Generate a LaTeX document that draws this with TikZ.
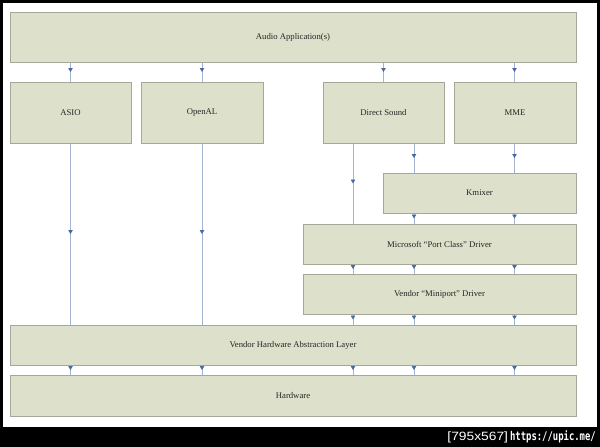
\documentclass[tikz,border=0pt]{standalone}
\usepackage{fontspec}
\usepackage{graphicx}
\setmainfont{Liberation Serif}
\newfontfamily\wmfont{DejaVu Sans Mono}
\newfontfamily\wmsans{Liberation Sans}
\usetikzlibrary{arrows.meta,decorations.markings}
\definecolor{boxfill}{HTML}{DDE0CB}
\definecolor{boxborder}{HTML}{A6A799}
\definecolor{linecol}{HTML}{A3B3D0}
\definecolor{arrowcol}{HTML}{4A6A9E}
\definecolor{textcol}{HTML}{262626}
\tikzset{
  box/.style={draw=boxborder, fill=boxfill, line width=1pt, inner sep=0pt,
    text=textcol, font=\fontsize{8.7}{10}\selectfont},
  conn/.style={draw=linecol, line width=0.9pt, postaction={decorate},
    decoration={markings, mark=at position 0.5 with {\arrow[color=arrowcol]{Triangle[width=4.5pt,length=4pt]}}}},
}
\begin{document}
\begin{tikzpicture}[x=1pt,y=-1pt]
\fill[black] (0,0) rectangle (600,447);
\fill[white] (3,3) rectangle (597,427);
\useasboundingbox (0,0) rectangle (600,447);
% boxes
\node[box, minimum width=566pt, minimum height=50pt] (app) at (293,37) {Audio Application(s)};
\node[box, minimum width=121pt, minimum height=61pt] (asio) at (70.5,112.5) {ASIO};
\node[box, minimum width=122pt, minimum height=61pt] (openal) at (202,112.5) {OpenAL};
\node[box, minimum width=121pt, minimum height=61pt] (ds) at (383.5,112.5) {Direct Sound};
\node[box, minimum width=122pt, minimum height=61pt] (mme) at (515,112.5) {MME};
\node[box, minimum width=193pt, minimum height=40pt] (kmix) at (479.5,193) {Kmixer};
\node[box, minimum width=273pt, minimum height=40pt] (pc) at (439.5,244) {Microsoft ``Port Class'' Driver};
\node[box, minimum width=273pt, minimum height=40pt] (mp) at (439.5,294) {Vendor ``Miniport'' Driver};
\node[box, minimum width=566pt, minimum height=40pt] (hal) at (293,345) {Vendor Hardware Abstraction Layer};
\node[box, minimum width=566pt, minimum height=41pt] (hw) at (293,395.5) {Hardware};
% x positions
\coordinate (xa) at (70.5,0);
\coordinate (xo) at (202,0);
\coordinate (xd) at (383.5,0);
\coordinate (xm) at (514.5,0);
\coordinate (xp) at (353,0);
\coordinate (xk) at (414,0);
% connectors
\draw[conn] (app.south -| xa) -- (asio.north -| xa);
\draw[conn] (app.south -| xo) -- (openal.north -| xo);
\draw[conn] (app.south -| xd) -- (ds.north -| xd);
\draw[conn] (app.south -| xm) -- (mme.north -| xm);
\draw[conn] (asio.south -| xa) -- (hal.north -| xa);
\draw[conn] (openal.south -| xo) -- (hal.north -| xo);
\draw[conn] (ds.south -| xp) -- (pc.north -| xp);
\draw[conn] (ds.south -| xk) -- (kmix.north -| xk);
\draw[conn] (mme.south -| xm) -- (kmix.north -| xm);
\draw[conn] (kmix.south -| xk) -- (pc.north -| xk);
\draw[conn] (kmix.south -| xm) -- (pc.north -| xm);
\draw[conn] (pc.south -| xp) -- (mp.north -| xp);
\draw[conn] (pc.south -| xk) -- (mp.north -| xk);
\draw[conn] (pc.south -| xm) -- (mp.north -| xm);
\draw[conn] (mp.south -| xp) -- (hal.north -| xp);
\draw[conn] (mp.south -| xk) -- (hal.north -| xk);
\draw[conn] (mp.south -| xm) -- (hal.north -| xm);
\draw[conn] (hal.south -| xa) -- (hw.north -| xa);
\draw[conn] (hal.south -| xo) -- (hw.north -| xo);
\draw[conn] (hal.south -| xp) -- (hw.north -| xp);
\draw[conn] (hal.south -| xk) -- (hw.north -| xk);
\draw[conn] (hal.south -| xm) -- (hw.north -| xm);
% watermark
\node[anchor=base east, text=white, inner sep=0pt] (wm) at (596,440)
  {\scalebox{1.15}[1]{\wmsans\fontsize{12}{13}\selectfont [795x567]}\kern2pt\scalebox{1}[1.35]{\wmfont\bfseries\fontsize{8.9}{10}\selectfont https://upic.me/}};
\end{tikzpicture}
\end{document}
